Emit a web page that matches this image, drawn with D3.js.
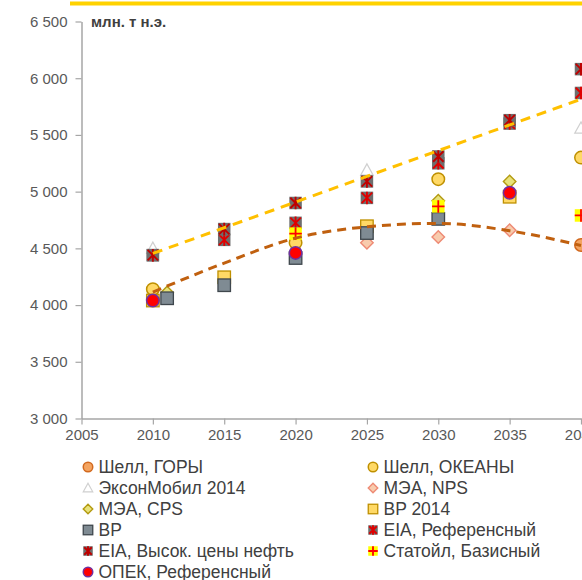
<!DOCTYPE html>
<html>
<head>
<meta charset="utf-8">
<script src="https://cdn.jsdelivr.net/npm/d3@7"></script>
<style>
  html, body { margin: 0; padding: 0; background: #fff; overflow: hidden; }
  svg { display: block; font-family: "Liberation Sans", Arial, sans-serif; }
  .tick text { fill: #595959; font-size: 15px; }
  .legend text { fill: #404040; font-size: 17.5px; }
</style>
</head>
<body>
<svg width="582" height="580"></svg>
<script>
const svg = d3.select("svg");
const width = +svg.attr("width");
const height = +svg.attr("height");

// values (млн. т н.э.)
const shellMountains = [[2010, 4050], [2040, 4530]];
const shellOceans = [[2010, 4140], [2020, 4550], [2030, 5110], [2040, 5300]];
const exxon2014 = [[2010, 4500], [2025, 5190], [2040, 5560]];
const ieaNps = [[2025, 4550], [2030, 4600], [2035, 4660]];
const ieaCps = [[2011, 4110], [2030, 4920], [2035, 5090]];
const bp2014 = [[2010, 4040], [2015, 4245], [2025, 4695], [2035, 4955]];
const bp = [[2011, 4060], [2015, 4175], [2020, 4415], [2025, 4635], [2030, 4760]];
const eiaRef = [[2010, 4440], [2015, 4575], [2020, 4725], [2025, 4945], [2030, 5250], [2035, 5600], [2040, 5870]];
const eiaHigh = [[2010, 4440], [2015, 4670], [2020, 4900], [2025, 5090], [2030, 5310], [2035, 5630], [2040, 6080]];
const statoil = [[2020, 4630], [2030, 4870], [2040, 4790]];
const opec = [[2010, 4040], [2020, 4460], [2035, 4990]];

// trend lines
const trendUpper = [[2010, 4455], [2040, 5815]];
const trendLower = [[2010, 4115], [2015, 4370], [2020, 4590], [2025, 4690], [2030, 4720], [2035, 4655], [2040, 4525]];

const yTicks = [3000, 3500, 4000, 4500, 5000, 5500, 6000, 6500];
const xTicks = [2005, 2010, 2015, 2020, 2025, 2030, 2035, 2040];

const series = [
  { name: "Шелл, ГОРЫ", data: shellMountains, shape: "circle", fill: "#F4A460", stroke: "#D2691E" },
  { name: "Шелл, ОКЕАНЫ", data: shellOceans, shape: "circle", fill: "#FFD966", stroke: "#BF9000" },
  { name: "ЭксонМобил 2014", data: exxon2014, shape: "triangle", fill: "#ffffff", stroke: "#D0D0D0" },
  { name: "МЭА, NPS", data: ieaNps, shape: "diamond", fill: "#F8CBAD", stroke: "#EE8A74" },
  { name: "МЭА, CPS", data: ieaCps, shape: "diamond", fill: "#E8E27A", stroke: "#B39A10" },
  { name: "BP 2014", data: bp2014, shape: "square", fill: "#FFD966", stroke: "#BF9000" },
  { name: "BP", data: bp, shape: "square", fill: "#7F8B93", stroke: "#3F474D" },
  { name: "EIA, Референсный", data: eiaRef, shape: "squarex", fill: "#6E6E6E", stroke: "#E00000" },
  { name: "EIA, Высок. цены нефть", data: eiaHigh, shape: "squarex", fill: "#6E6E6E", stroke: "#C00000" },
  { name: "Статойл, Базисный", data: statoil, shape: "plus", fill: "#FFFF00", stroke: "#FF0000" },
  { name: "ОПЕК, Референсный", data: opec, shape: "circle", fill: "#FF0000", stroke: "#7030A0" }
];

const xScale = d3.scaleLinear().domain([2005, 2040]).range([81.5, 581]);
const yScale = d3.scaleLinear().domain([3000, 6500]).range([418.5, 21.5]);

// yellow bar on top
svg.append("line")
  .attr("x1", 70).attr("x2", width)
  .attr("y1", 3.5).attr("y2", 3.5)
  .attr("stroke", "#FFD200").attr("stroke-width", 4);

// axes
const yAxisG = svg.append("g")
  .attr("transform", `translate(${xScale.range()[0]},0)`)
  .call(d3.axisLeft(yScale).tickValues(yTicks).tickSize(6).tickSizeOuter(0).tickPadding(8)
    .tickFormat(d => d3.format(",")(d).replace(",", " ")));
const xAxisG = svg.append("g")
  .attr("transform", `translate(0,${yScale(3000)})`)
  .call(d3.axisBottom(xScale).tickValues(xTicks).tickSize(6).tickSizeOuter(0).tickPadding(5)
    .tickFormat(d3.format("d")));
[yAxisG, xAxisG].forEach(g => {
  g.attr("font-family", null).attr("font-size", null);
  g.select(".domain").attr("stroke", "#A6A6A6").attr("stroke-width", 1.5);
  g.selectAll(".tick line").attr("stroke", "#A6A6A6").attr("stroke-width", 1.2);
});

svg.append("text")
  .attr("x", 91).attr("y", 27)
  .attr("font-size", 15).attr("font-weight", "bold").attr("fill", "#404040")
  .text("млн. т н.э.");

// marker drawing
const drawMarker = (sel, s, size) => {
  const h = size / 2;
  if (s.shape === "circle") {
    sel.append("circle").attr("r", h).attr("fill", s.fill).attr("stroke", s.stroke).attr("stroke-width", 1.5);
  } else if (s.shape === "square") {
    sel.append("rect").attr("x", -h).attr("y", -h).attr("width", size).attr("height", size)
      .attr("fill", s.fill).attr("stroke", s.stroke).attr("stroke-width", 1.3);
  } else if (s.shape === "diamond") {
    sel.append("path").attr("d", `M0,${-h}L${h},0L0,${h}L${-h},0Z`)
      .attr("fill", s.fill).attr("stroke", s.stroke).attr("stroke-width", 1.4);
  } else if (s.shape === "triangle") {
    sel.append("path").attr("d", `M0,${-h}L${h},${h * 0.8}L${-h},${h * 0.8}Z`)
      .attr("fill", s.fill).attr("stroke", s.stroke).attr("stroke-width", 1.2);
  } else if (s.shape === "squarex") {
    sel.append("rect").attr("x", -h).attr("y", -h).attr("width", size).attr("height", size)
      .attr("fill", s.fill);
    sel.append("path").attr("d", `M${-h + 1},${-h + 1}L${h - 1},${h - 1}M${h - 1},${-h + 1}L${-h + 1},${h - 1}M0,${-h}L0,${h}`)
      .attr("stroke", s.stroke).attr("stroke-width", 1.9).attr("fill", "none");
  } else if (s.shape === "plus") {
    sel.append("rect").attr("x", -h).attr("y", -h).attr("width", size).attr("height", size)
      .attr("fill", s.fill);
    sel.append("path").attr("d", `M0,${-h}L0,${h}M${-h},0L${h},0`)
      .attr("stroke", s.stroke).attr("stroke-width", 1.8).attr("fill", "none");
  }
};

// points
series.forEach(s => {
  svg.append("g").selectAll("g")
    .data(s.data)
    .enter()
    .append("g")
    .attr("transform", d => `translate(${xScale(d[0])},${yScale(d[1])})`)
    .each(function () { drawMarker(d3.select(this), s, 12.5); });
});

// trend lines
const line = d3.line().x(d => xScale(d[0])).y(d => yScale(d[1]));
svg.append("path")
  .datum(trendUpper)
  .attr("d", line)
  .attr("fill", "none").attr("stroke", "#FFC000").attr("stroke-width", 3)
  .attr("stroke-dasharray", "10,7");
svg.append("path")
  .datum(trendLower)
  .attr("d", line.curve(d3.curveMonotoneX))
  .attr("fill", "none").attr("stroke", "#C0600F").attr("stroke-width", 3)
  .attr("stroke-dasharray", "9,6");

// legend
const legend = svg.append("g").attr("class", "legend");
series.forEach((s, i) => {
  const col = i % 2;
  const row = Math.floor(i / 2);
  const item = legend.append("g")
    .attr("transform", `translate(${col === 0 ? 88 : 373},${467 + row * 21})`);
  drawMarker(item, s, 9.5);
  item.append("text").attr("x", 10.5).attr("dy", "0.36em").text(s.name);
});
</script>
</body>
</html>
